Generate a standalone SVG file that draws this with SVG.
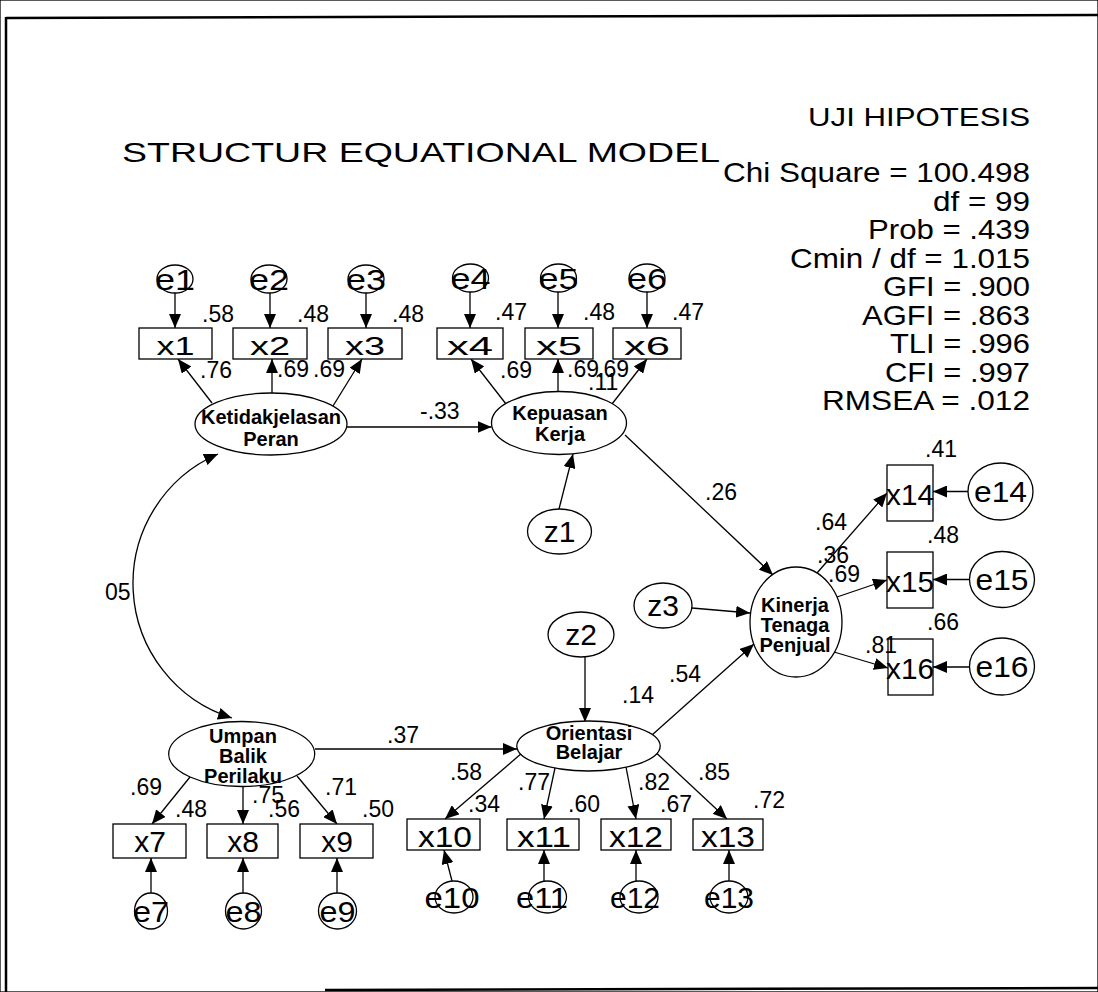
<svg xmlns="http://www.w3.org/2000/svg" width="1098" height="992" viewBox="0 0 1098 992">
<defs>
<marker id="ah" viewBox="0 0 14 12" refX="14" refY="6" markerWidth="14" markerHeight="12" markerUnits="userSpaceOnUse" orient="auto-start-reverse"><path d="M0,0 L14,6 L0,12 z" fill="#000"/></marker>
<style>
text{font-family:"Liberation Sans",Arial,sans-serif;fill:#000}
.n{font-size:23px}
.lat{font-size:20px;font-weight:bold;text-anchor:middle}
.obs{font-size:26px;text-anchor:middle}
.err{font-size:30px;text-anchor:middle}
.st{font-size:28px}
ellipse,rect{fill:#fff;stroke:#000;stroke-width:1.3}
.c line,.c path{stroke:#000;stroke-width:1.3;fill:none;marker-end:url(#ah)}
.border{stroke:#000;stroke-width:2.5;fill:none}
</style>
</defs>
<rect width="1098" height="992" fill="#fff" stroke="none"/>
<g id="frame">
<line class="border" x1="6" y1="18" x2="1098" y2="15"/>
<line class="border" x1="6" y1="17" x2="6" y2="992"/>
<line class="border" x1="325" y1="990" x2="1098" y2="988"/>
</g>
<g id="title">
<text x="122" y="162" font-size="28" textLength="598" lengthAdjust="spacingAndGlyphs">STRUCTUR EQUATIONAL MODEL</text>
<text x="808" y="126" font-size="26" textLength="222" lengthAdjust="spacingAndGlyphs">UJI HIPOTESIS</text>
</g>
<g id="stats">
<text class="st" x="723" y="182" textLength="307" lengthAdjust="spacingAndGlyphs">Chi Square = 100.498</text>
<text class="st" x="933" y="210.5" textLength="97" lengthAdjust="spacingAndGlyphs">df = 99</text>
<text class="st" x="868" y="239" textLength="162" lengthAdjust="spacingAndGlyphs">Prob = .439</text>
<text class="st" x="790" y="267.5" textLength="240" lengthAdjust="spacingAndGlyphs">Cmin / df = 1.015</text>
<text class="st" x="883" y="296" textLength="147" lengthAdjust="spacingAndGlyphs">GFI = .900</text>
<text class="st" x="862" y="324.5" textLength="168" lengthAdjust="spacingAndGlyphs">AGFI = .863</text>
<text class="st" x="890" y="353" textLength="140" lengthAdjust="spacingAndGlyphs">TLI = .996</text>
<text class="st" x="885" y="381.5" textLength="145" lengthAdjust="spacingAndGlyphs">CFI = .997</text>
<text class="st" x="822" y="410" textLength="208" lengthAdjust="spacingAndGlyphs">RMSEA = .012</text>
</g>
<g id="connectors" class="c">
<line x1="175" y1="293" x2="175" y2="328"/>
<line x1="270" y1="293" x2="270" y2="328"/>
<line x1="366" y1="293" x2="366" y2="328"/>
<line x1="470" y1="292" x2="470" y2="328"/>
<line x1="558" y1="292" x2="558" y2="328"/>
<line x1="647" y1="292" x2="647" y2="328"/>
<line x1="212" y1="403" x2="178" y2="359"/>
<line x1="272" y1="393" x2="272" y2="359"/>
<line x1="333" y1="406" x2="362" y2="359"/>
<line x1="506" y1="404" x2="471" y2="359"/>
<line x1="558" y1="391.5" x2="558" y2="359"/>
<line x1="612" y1="404" x2="647" y2="359"/>
<line x1="347" y1="427" x2="491.5" y2="427"/>
<line x1="559" y1="509" x2="573" y2="454"/>
<line x1="625" y1="435" x2="773" y2="575"/>
<line x1="692" y1="608" x2="750" y2="613"/>
<line x1="585" y1="657" x2="585" y2="722"/>
<line x1="652" y1="735" x2="754" y2="644"/>
<line x1="315" y1="749" x2="517" y2="749"/>
<path d="M 218 454 A 141 141 0 0 0 232 718" style="marker-start:url(#ah)"/>
<line x1="190" y1="777" x2="152" y2="824"/>
<line x1="243" y1="786.5" x2="243" y2="824"/>
<line x1="297" y1="776" x2="337" y2="824"/>
<line x1="521.7" y1="753.3" x2="445" y2="819"/>
<line x1="555" y1="768" x2="544" y2="819"/>
<line x1="626" y1="767" x2="636" y2="819"/>
<line x1="656.7" y1="753.3" x2="727" y2="819"/>
<line x1="151" y1="893" x2="151" y2="858"/>
<line x1="243" y1="893" x2="243" y2="858"/>
<line x1="337" y1="893" x2="337" y2="858"/>
<line x1="452" y1="881" x2="444" y2="850"/>
<line x1="544" y1="881" x2="544" y2="850"/>
<line x1="636" y1="881" x2="636" y2="850"/>
<line x1="729" y1="881" x2="729" y2="850"/>
<line x1="817" y1="573" x2="887" y2="493"/>
<line x1="837" y1="597" x2="887" y2="580"/>
<line x1="834" y1="652" x2="888" y2="668"/>
<line x1="968" y1="491.5" x2="933" y2="491.5"/>
<line x1="969.5" y1="579.5" x2="933" y2="579.5"/>
<line x1="969.5" y1="667" x2="933" y2="667"/>
</g>
<g id="e1"><ellipse cx="175" cy="279" rx="18" ry="14"/><text class="err" x="175" y="290" textLength="40" lengthAdjust="spacingAndGlyphs">e1</text></g>
<g id="e2"><ellipse cx="269" cy="279" rx="18" ry="14"/><text class="err" x="269" y="290" textLength="40" lengthAdjust="spacingAndGlyphs">e2</text></g>
<g id="e3"><ellipse cx="366" cy="279" rx="18" ry="14"/><text class="err" x="366" y="290" textLength="40" lengthAdjust="spacingAndGlyphs">e3</text></g>
<g id="e4"><ellipse cx="470.5" cy="278" rx="18" ry="14"/><text class="err" x="470.5" y="289" textLength="40" lengthAdjust="spacingAndGlyphs">e4</text></g>
<g id="e5"><ellipse cx="558.5" cy="278" rx="18" ry="14"/><text class="err" x="558.5" y="289" textLength="40" lengthAdjust="spacingAndGlyphs">e5</text></g>
<g id="e6"><ellipse cx="647" cy="278" rx="18" ry="14"/><text class="err" x="647" y="289" textLength="40" lengthAdjust="spacingAndGlyphs">e6</text></g>
<g id="x1"><rect x="139" y="328" width="73" height="31"/><text class="obs" x="175.5" y="355" textLength="38" lengthAdjust="spacingAndGlyphs">x1</text></g>
<g id="x2"><rect x="233" y="328" width="74" height="31"/><text class="obs" x="270" y="355" textLength="40" lengthAdjust="spacingAndGlyphs">x2</text></g>
<g id="x3"><rect x="328" y="328" width="74" height="31"/><text class="obs" x="365" y="355" textLength="40" lengthAdjust="spacingAndGlyphs">x3</text></g>
<g id="x4"><rect x="437" y="328" width="66" height="31"/><text class="obs" x="470" y="355" textLength="46" lengthAdjust="spacingAndGlyphs">x4</text></g>
<g id="x5"><rect x="525" y="328" width="68" height="31"/><text class="obs" x="559" y="355" textLength="46" lengthAdjust="spacingAndGlyphs">x5</text></g>
<g id="x6"><rect x="613" y="328" width="68" height="31"/><text class="obs" x="647" y="355" textLength="46" lengthAdjust="spacingAndGlyphs">x6</text></g>
<g id="ketidakjelasan"><ellipse cx="271" cy="424" rx="76" ry="31"/><text class="lat" x="271" y="424">Ketidakjelasan</text><text class="lat" x="271" y="446">Peran</text></g>
<g id="kepuasan"><ellipse cx="559" cy="423" rx="67.5" ry="31.5"/><text class="lat" x="560" y="420">Kepuasan</text><text class="lat" x="560" y="441">Kerja</text></g>
<g id="z1"><ellipse cx="559.5" cy="531.5" rx="32" ry="22.5"/><text class="err" x="559.5" y="542">z1</text></g>
<g id="z3"><ellipse cx="663" cy="605.5" rx="29" ry="22.5"/><text class="err" x="663" y="616">z3</text></g>
<g id="z2"><ellipse cx="581" cy="634.5" rx="33" ry="22.5"/><text class="err" x="581" y="645">z2</text></g>
<g id="kinerja"><ellipse cx="796" cy="622" rx="46" ry="55"/><text class="lat" x="795" y="612">Kinerja</text><text class="lat" x="795" y="632">Tenaga</text><text class="lat" x="795" y="652">Penjual</text></g>
<g id="x14"><rect x="887" y="465" width="46" height="56"/><text class="err" x="910" y="505" font-size="29" textLength="48" lengthAdjust="spacingAndGlyphs">x14</text></g>
<g id="x15"><rect x="887" y="552" width="46" height="56"/><text class="err" x="910" y="592" font-size="29" textLength="48" lengthAdjust="spacingAndGlyphs">x15</text></g>
<g id="x16"><rect x="888" y="639" width="45" height="56"/><text class="err" x="910" y="679" font-size="29" textLength="48" lengthAdjust="spacingAndGlyphs">x16</text></g>
<g id="e14"><ellipse cx="1000.5" cy="491.5" rx="32.5" ry="28.5"/><text class="err" x="1000.5" y="502" textLength="53" lengthAdjust="spacingAndGlyphs">e14</text></g>
<g id="e15"><ellipse cx="1002" cy="579.5" rx="32.5" ry="28"/><text class="err" x="1002" y="590" textLength="53" lengthAdjust="spacingAndGlyphs">e15</text></g>
<g id="e16"><ellipse cx="1002" cy="666.5" rx="32.5" ry="28.5"/><text class="err" x="1002" y="677" textLength="53" lengthAdjust="spacingAndGlyphs">e16</text></g>
<g id="orientasi"><ellipse cx="588.5" cy="746" rx="71.7" ry="25"/><text class="lat" x="589" y="740">Orientasi</text><text class="lat" x="589" y="759">Belajar</text></g>
<g id="umpan"><ellipse cx="241.7" cy="754" rx="73" ry="32.5"/><text class="lat" x="243" y="743">Umpan</text><text class="lat" x="243" y="763">Balik</text><text class="lat" x="243" y="783">Perilaku</text></g>
<g id="x7"><rect x="113" y="824" width="73" height="34"/><text class="err" x="150" y="852" font-size="32">x7</text></g>
<g id="x8"><rect x="207" y="824" width="71" height="34"/><text class="err" x="243" y="852" font-size="32">x8</text></g>
<g id="x9"><rect x="300" y="824" width="73" height="34"/><text class="err" x="337" y="852" font-size="32">x9</text></g>
<g id="x10"><rect x="407" y="819" width="73" height="31"/><text class="err" x="445" y="847" textLength="54" lengthAdjust="spacingAndGlyphs">x10</text></g>
<g id="x11"><rect x="507" y="819" width="72" height="31"/><text class="err" x="544" y="847" textLength="54" lengthAdjust="spacingAndGlyphs">x11</text></g>
<g id="x12"><rect x="601" y="819" width="70" height="31"/><text class="err" x="636" y="847" textLength="54" lengthAdjust="spacingAndGlyphs">x12</text></g>
<g id="x13"><rect x="693" y="819" width="70" height="31"/><text class="err" x="728" y="847" textLength="54" lengthAdjust="spacingAndGlyphs">x13</text></g>
<g id="e7"><ellipse cx="151" cy="911" rx="16.5" ry="18"/><text class="err" x="151" y="922" textLength="36" lengthAdjust="spacingAndGlyphs">e7</text></g>
<g id="e8"><ellipse cx="243.5" cy="911" rx="18" ry="18"/><text class="err" x="243.5" y="922" textLength="36" lengthAdjust="spacingAndGlyphs">e8</text></g>
<g id="e9"><ellipse cx="337.5" cy="911" rx="19" ry="18"/><text class="err" x="337.5" y="922" textLength="36" lengthAdjust="spacingAndGlyphs">e9</text></g>
<g id="e10"><ellipse cx="454" cy="897" rx="19" ry="16"/><text class="err" x="452" y="908" font-size="26" textLength="55" lengthAdjust="spacingAndGlyphs">e10</text></g>
<g id="e11"><ellipse cx="547.5" cy="897" rx="19" ry="16"/><text class="err" x="542" y="908" font-size="26" textLength="52" lengthAdjust="spacingAndGlyphs">e11</text></g>
<g id="e12"><ellipse cx="639" cy="897" rx="19" ry="16"/><text class="err" x="635" y="908" font-size="26" textLength="50" lengthAdjust="spacingAndGlyphs">e12</text></g>
<g id="e13"><ellipse cx="729" cy="897" rx="19" ry="16"/><text class="err" x="729" y="908" font-size="26" textLength="50" lengthAdjust="spacingAndGlyphs">e13</text></g>
<g id="labels" class="n">
<text x="202" y="322">.58</text><text x="297" y="322">.48</text><text x="392" y="322">.48</text>
<text x="495" y="320">.47</text><text x="583" y="320">.48</text><text x="672" y="320">.47</text>
<text x="200" y="378">.76</text><text x="277" y="377">.69</text><text x="313" y="377">.69</text>
<text x="500" y="378">.69</text><text x="567" y="377">.69</text><text x="597" y="377">.69</text><text x="588" y="390">.11</text>
<text x="420" y="419">-.33</text>
<text x="705" y="500">.26</text>
<text x="815" y="530">.64</text><text x="817" y="563">.36</text><text x="828" y="582">.69</text><text x="865" y="653">.81</text>
<text x="925" y="457">.41</text><text x="927" y="543">.48</text><text x="927" y="630">.66</text>
<text x="669" y="682">.54</text><text x="622" y="703">.14</text>
<text x="105" y="600">05</text>
<text x="387" y="743">.37</text>
<text x="130" y="795">.69</text><text x="175" y="817">.48</text><text x="252" y="803">.75</text><text x="268" y="817">.56</text><text x="325" y="795">.71</text><text x="362" y="817">.50</text>
<text x="450" y="780">.58</text><text x="518" y="790">.77</text><text x="638" y="790">.82</text><text x="698" y="780">.85</text>
<text x="468" y="812">.34</text><text x="568" y="812">.60</text><text x="660" y="812">.67</text><text x="753" y="808">.72</text>
</g>
</svg>
